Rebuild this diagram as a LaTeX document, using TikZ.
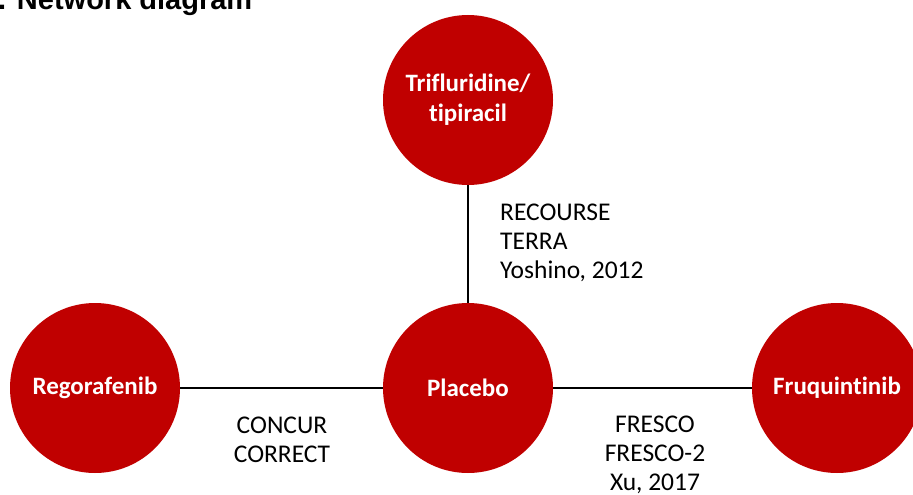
\documentclass[tikz,border=0pt]{standalone}
\usepackage{fontspec}
\setmainfont{Carlito}[Ligatures=NoCommon]
\newfontfamily\headfont{Liberation Sans}
\usetikzlibrary{positioning}
\definecolor{armred}{HTML}{C00000}

\tikzset{
  arm/.style={circle, fill=armred, minimum size=170pt, inner sep=0pt, text=white, align=center, font=\fontsize{25}{30}\selectfont\bfseries},
  link/.style={draw=black, line width=2.2pt},
  study/.style={inner sep=0pt, font=\fontsize{25.5}{29}\selectfont},
}

\begin{document}
\begin{tikzpicture}[x=1pt,y=-1pt]
\useasboundingbox (0,0) rectangle (913,495);
\clip (0,0) rectangle (913,495);

\node[anchor=base west, inner sep=0pt, font=\headfont\bfseries\fontsize{29}{34}\selectfont] (title) at (-2,10) {. Network diagram};

% treatment arms
\node[arm] (tft) at (468,100) {Trifluridine/\\tipiracil};
\node[arm] (pbo) at (468,388) {Placebo};
\node[arm] (rego) at (95,388) {Regorafenib};
\node[arm] (fruq) at (837,388) {Fruquintinib};

\draw[link] (tft) -- (pbo);
\draw[link] (rego) -- (pbo);
\draw[link] (pbo) -- (fruq);

% trials on each comparison
\node[study, anchor=west, align=left] (tftlbl) at (500,243) {RECOURSE\\TERRA\\Yoshino, 2012};
\node[study, align=center] (regolbl) at (282,440) {CONCUR\\CORRECT};
\node[study, align=center] (fruqlbl) at (655,455) {FRESCO\\FRESCO-2\\Xu, 2017};
\end{tikzpicture}
\end{document}
